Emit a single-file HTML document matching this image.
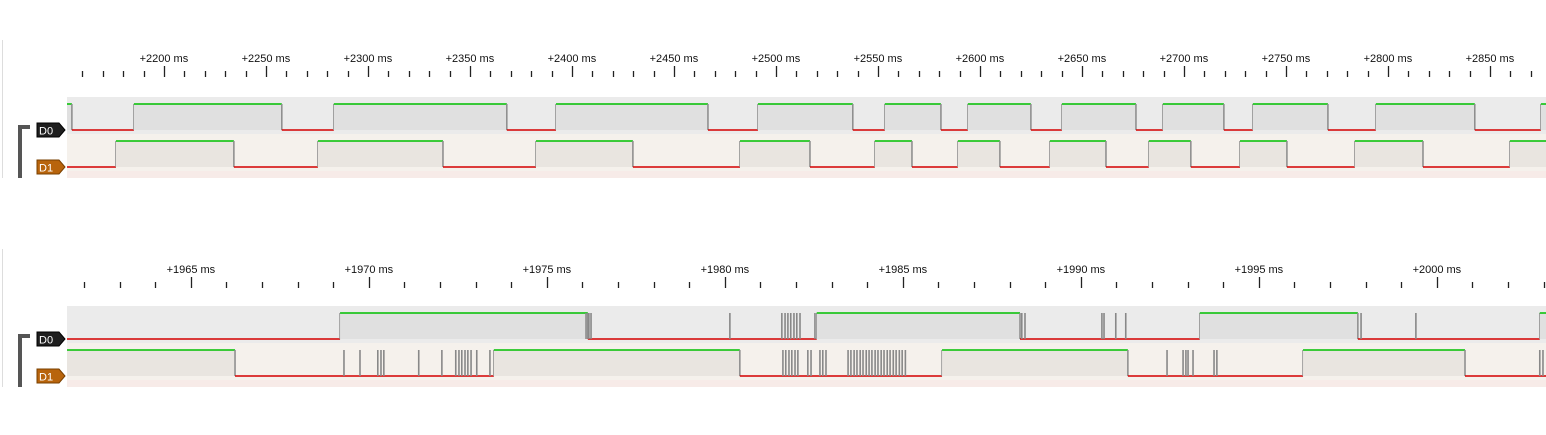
<!DOCTYPE html>
<html><head><meta charset="utf-8"><style>
html,body{margin:0;padding:0;background:#fff;width:1546px;height:435px;overflow:hidden}
svg{display:block;font-family:"Liberation Sans",sans-serif}
</style></head><body>
<svg id="s" width="1546" height="435"></svg>
<script>
// Panel 1 data (ms)
const p1Labels = [2200,2250,2300,2350,2400,2450,2500,2550,2600,2650,2700,2750,2800,2850];
const p1D0Init = 1;
const p1D0Edges = [2154.9,2185.3,2257.8,2283.3,2368.1,2392.2,2466.7,2491.2,2537.7,2553.4,2580.9,2594.1,2625.0,2640.2,2676.5,2689.7,2719.6,2733.8,2770.6,2794.1,2842.6,2875.0];
const p1D1Init = 0;
const p1D1Edges = [2176.5,2234.3,2275.5,2336.8,2382.4,2429.9,2482.4,2516.7,2548.5,2566.7,2589.2,2609.8,2634.3,2661.8,2682.8,2703.4,2727.5,2750.5,2783.8,2817.2,2859.8];
// Panel 2 data (ms)
const p2Labels = [1965,1970,1975,1980,1985,1990,1995,2000];
const p2D0Init = 0;
const p2D0Edges = [1969.19,1976.15,1982.58,1988.29,1993.34,1997.78,2002.89];
const p2D0Glitches = [1976.10,1976.18,1976.24,1980.14,1981.60,1981.69,1981.77,1981.85,1981.94,1982.02,1982.11,1982.53,1988.34,1988.43,1990.59,1990.65,1990.98,1991.26,1997.87,1999.41];
const p2D1Init = 1;
const p2D1Edges = [1966.24,1973.51,1980.42,1986.10,1991.32,1996.24,2000.79];
const p2D1Glitches = [1969.30,1969.75,1970.25,1970.34,1970.42,1971.40,1972.05,1972.44,1972.53,1972.61,1972.70,1972.78,1972.87,1973.03,1973.40,1981.63,1981.71,1981.80,1981.88,1981.97,1982.05,1982.33,1982.42,1982.67,1982.75,1982.84,1983.46,1983.54,1983.63,1983.71,1983.80,1983.88,1983.97,1984.05,1984.13,1984.22,1984.30,1984.39,1984.47,1984.56,1984.64,1984.73,1984.81,1984.90,1984.98,1985.07,1992.42,1992.87,1992.95,1993.01,1993.15,1993.74,1993.82,2002.89,2002.98];

const NS='http://www.w3.org/2000/svg';
const svg=document.getElementById('s');
function mk(t,a,p){const e=document.createElementNS(NS,t);for(const k in a)e.setAttribute(k,a[k]);(p||svg).appendChild(e);return e;}
const X0=67,X1=1546;

function panel(top,t0,pxPerMs,minorStep,labels,rows,name,labOff){
  const g=mk('g',{});
  
  
  const sx=t=>X0+(t-t0)*pxPerMs;
  const tMax=t0+(X1-X0)/pxPerMs;
  mk('line',{x1:2.5,y1:top,x2:2.5,y2:top+138,stroke:'#ddd'},g);
  const first=Math.ceil(t0/minorStep)*minorStep;
  for(let t=first;t<=tMax+1e-9;t+=minorStep){
    const x=Math.round(sx(t))+0.5;
    const major=labels.some(l=>Math.abs(l-t)<1e-6);
    const tk=mk('line',{x1:x,x2:x,y1:top+labOff+(major?26:31),y2:top+labOff+37,stroke:'#222','stroke-width':1.3},g);
    
    
  }
  labels.forEach(l=>{
    const tx=mk('text',{x:sx(l),y:top+labOff+22,'text-anchor':'middle','font-size':11,fill:'#111'},g);
    tx.textContent='+'+l+' ms';
    
    
  });
  const rowBgs=[['#ebebeb','#e0e0e0'],['#f5f1ec','#e9e5e0']];
  rows.forEach((r,i)=>{
    const y0=top+57+i*37, hy=y0+7, ly=y0+33;
    const bg=mk('rect',{x:X0,y:y0,width:X1-X0,height:37,fill:rowBgs[i][0]},g);
    
    
    let lv=r.init, start=X0;
    const ed=r.edges.map(sx).concat([X1]);
    ed.forEach((ex,k)=>{
      const e=Math.min(ex,X1);
      if(lv){mk('rect',{x:start,y:hy,width:e-start,height:ly-hy,fill:rowBgs[i][1]},g);}
      mk('line',{x1:start,x2:e,y1:lv?hy:ly,y2:lv?hy:ly,stroke:lv?'#00c000':'#d40000','stroke-width':1.5},g);
      if(k<ed.length-1&&ex<X1){const v=mk('line',{x1:e,x2:e,y1:hy,y2:ly,stroke:'#8a8a8a','stroke-width':1.5},g);
        }
      start=e; lv=1-lv;
    });
    (r.glitches||[]).forEach(t=>{
      const x=sx(t);
      const gl=mk('line',{x1:x,x2:x,y1:hy,y2:ly,stroke:'#888','stroke-width':1.6},g);
      
      
    });
    const ty=ly;
    const tag=mk('path',{d:`M37 ${ty-7} H59 L65 ${ty} L59 ${ty+7} H37 Z`,fill:i==0?'#1e1e1e':'#b8640c',stroke:i==0?'#000':'#7a4000','stroke-width':1},g);
    
    
    const tt=mk('text',{x:39,y:ty+4.5,'font-size':11,fill:'#fff'},g);
    tt.textContent=r.name;
    
    
  });
  mk('rect',{x:X0,y:top+131,width:X1-X0,height:7,fill:'#f7ebe8'},g);
  const br=mk('path',{d:`M20 ${top+138} V${top+87} H30`,fill:'none',stroke:'#555','stroke-width':4},g);
  
  
}
panel(40,2152.5,2.04,10,p1Labels,[{name:'D0',init:p1D0Init,edges:p1D0Edges},{name:'D1',init:p1D1Init,edges:p1D1Edges}],'panel-top',0);
panel(249,1961.52,35.6,1,p2Labels,[{name:'D0',init:p2D0Init,edges:p2D0Edges,glitches:p2D0Glitches},{name:'D1',init:p2D1Init,edges:p2D1Edges,glitches:p2D1Glitches}],'panel-bottom',2);
</script>
</body></html>
